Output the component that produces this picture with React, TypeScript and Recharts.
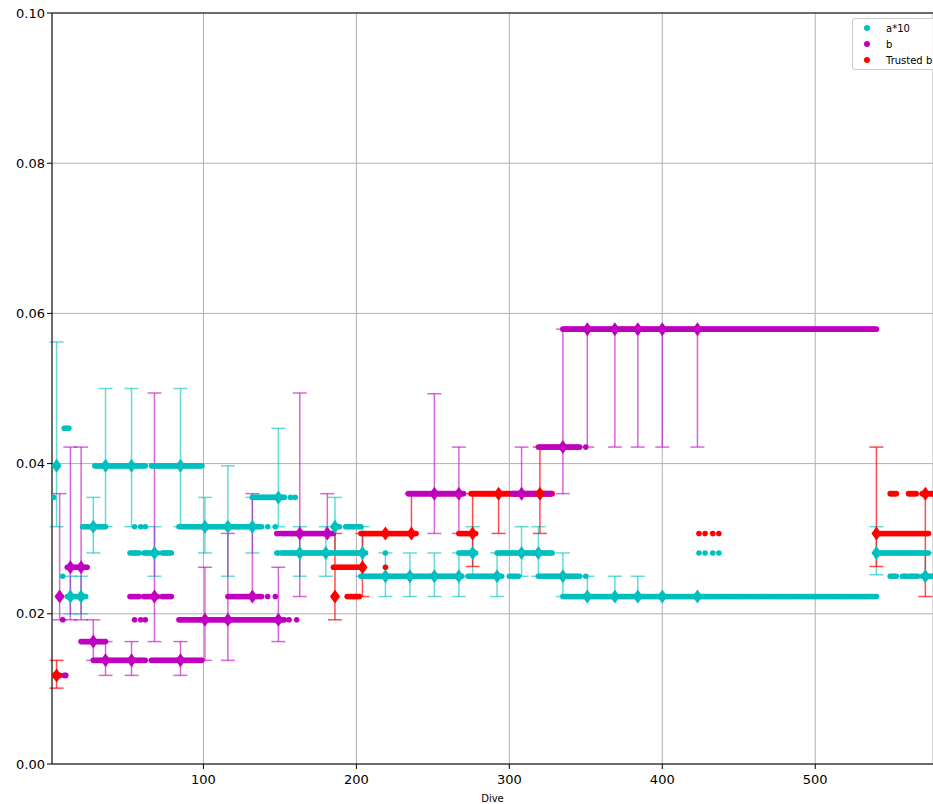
import React from 'react'
import {
  CartesianGrid,
  ErrorBar,
  Legend,
  ReferenceLine,
  Scatter,
  ScatterChart,
  XAxis,
  YAxis,
} from 'recharts'

// [first dive, last dive, value] - one dot per dive
const aRuns: [number, number, number][] = [
  [2, 2, 0.0355], [4, 4, 0.0397], [8, 8, 0.025], [9, 12, 0.0447], [11, 23, 0.0223],
  [21, 36, 0.0316], [29, 62, 0.0397], [55, 55, 0.0316], [59, 59, 0.0316], [62, 62, 0.0316],
  [52, 58, 0.0281], [61, 70, 0.0281], [73, 79, 0.0281], [66, 99, 0.0397],
  [84, 138, 0.0316], [142, 142, 0.0316], [147, 147, 0.0316],
  [132, 153, 0.0355], [157, 157, 0.0355], [160, 160, 0.0355],
  [148, 149, 0.0281], [151, 206, 0.0281], [186, 189, 0.0316], [193, 203, 0.0316],
  [203, 269, 0.025], [219, 219, 0.0281], [267, 278, 0.0281], [273, 295, 0.025],
  [292, 328, 0.0281], [300, 306, 0.025], [319, 346, 0.025], [350, 350, 0.025],
  [335, 540, 0.0223], [424, 424, 0.0281], [428, 428, 0.0281], [433, 433, 0.0281], [437, 437, 0.0281],
  [540, 574, 0.0281], [549, 553, 0.025], [557, 560, 0.025], [562, 567, 0.025], [570, 577, 0.025],
]

const bRuns: [number, number, number][] = [
  [5, 7, 0.0223], [8, 8, 0.0192], [9, 10, 0.0118], [11, 24, 0.0262], [20, 36, 0.0163],
  [28, 62, 0.0138], [52, 58, 0.0223], [61, 70, 0.0223], [73, 79, 0.0223],
  [55, 55, 0.0192], [59, 59, 0.0192], [62, 62, 0.0192], [66, 99, 0.0138],
  [84, 153, 0.0192], [156, 156, 0.0192], [161, 161, 0.0192],
  [116, 138, 0.0223], [142, 142, 0.0223], [147, 147, 0.0223],
  [148, 149, 0.0307], [151, 185, 0.0307], [234, 270, 0.036], [302, 327, 0.036],
  [319, 346, 0.0422], [350, 350, 0.0422], [335, 540, 0.0579],
]

const trustedRuns: [number, number, number][] = [
  [2, 6, 0.0118], [186, 187, 0.0223], [194, 202, 0.0223], [185, 204, 0.0262], [219, 219, 0.0262],
  [203, 239, 0.0307], [267, 278, 0.0307], [275, 328, 0.036],
  [424, 424, 0.0307], [428, 428, 0.0307], [433, 433, 0.0307], [437, 437, 0.0307],
  [540, 574, 0.0307], [549, 553, 0.036], [561, 566, 0.036], [570, 577, 0.036],
]

// [dive, value, low, high] - estimate with its range
const aMarks: [number, number, number, number][] = [
  [4, 0.0397, 0.0316, 0.0562], [13, 0.0223, 0.02, 0.025], [20, 0.0223, 0.02, 0.025],
  [28, 0.0316, 0.0281, 0.0355], [36, 0.0397, 0.0316, 0.05], [53, 0.0397, 0.0316, 0.05],
  [68, 0.0281, 0.025, 0.0316], [85, 0.0397, 0.0316, 0.05], [101, 0.0316, 0.0281, 0.0355],
  [116, 0.0316, 0.025, 0.0397], [132, 0.0316, 0.0281, 0.0355], [149, 0.0355, 0.0316, 0.0447],
  [163, 0.0281, 0.025, 0.0316], [180, 0.0281, 0.025, 0.0316], [186, 0.0316, 0.0281, 0.0355],
  [204, 0.0281, 0.025, 0.0316], [219, 0.025, 0.0223, 0.0281], [235, 0.025, 0.0223, 0.0281],
  [251, 0.025, 0.0223, 0.0281], [267, 0.025, 0.0223, 0.0281], [276, 0.0281, 0.025, 0.0316],
  [292, 0.025, 0.0223, 0.0281], [308, 0.0281, 0.025, 0.0316], [319, 0.0281, 0.025, 0.0316],
  [335, 0.025, 0.0223, 0.0281], [351, 0.0223, 0.0223, 0.025], [369, 0.0223, 0.0223, 0.025],
  [384, 0.0223, 0.0223, 0.025], [400, 0.0223, 0.0223, 0.0223], [423, 0.0223, 0.0223, 0.0223],
  [540, 0.0281, 0.0252, 0.0316], [572, 0.025, 0.025, 0.0281],
]

const bMarks: [number, number, number, number][] = [
  [6, 0.0223, 0.0192, 0.036], [13, 0.0262, 0.0192, 0.0422], [20, 0.0262, 0.0192, 0.0422],
  [28, 0.0163, 0.0138, 0.0192], [36, 0.0138, 0.0118, 0.0163], [53, 0.0138, 0.0118, 0.0163],
  [68, 0.0223, 0.0163, 0.0494], [85, 0.0138, 0.0118, 0.0163], [101, 0.0192, 0.0138, 0.0262],
  [116, 0.0192, 0.0138, 0.0307], [132, 0.0223, 0.0223, 0.036], [149, 0.0192, 0.0163, 0.0262],
  [163, 0.0307, 0.0223, 0.0494], [181, 0.0307, 0.0307, 0.036], [251, 0.036, 0.0307, 0.0493],
  [267, 0.036, 0.0307, 0.0422], [308, 0.036, 0.036, 0.0422], [335, 0.0422, 0.036, 0.0579],
  [351, 0.0579, 0.0422, 0.0579], [369, 0.0579, 0.0422, 0.0579], [384, 0.0579, 0.0422, 0.0579],
  [400, 0.0579, 0.0422, 0.0579], [423, 0.0579, 0.0422, 0.0579],
]

const trustedMarks: [number, number, number, number][] = [
  [4, 0.0118, 0.0101, 0.0138], [186, 0.0223, 0.0192, 0.0307], [204, 0.0262, 0.0223, 0.0307],
  [219, 0.0307, 0.0307, 0.0307], [236, 0.0307, 0.0307, 0.036], [276, 0.0307, 0.0263, 0.036],
  [293, 0.036, 0.0307, 0.036], [320, 0.036, 0.0307, 0.0422], [540, 0.0307, 0.0263, 0.0422],
  [572, 0.036, 0.0223, 0.036],
]

const xTicks = [100, 200, 300, 400, 500]
const yTicks = [0, 0.02, 0.04, 0.06, 0.08, 0.1]

const CYAN = '#00bfbf'
const MAGENTA = '#bf00bf'
const RED = '#ff0000'

const legendItems: [string, string][] = [
  ['a*10', CYAN],
  ['b', MAGENTA],
  ['Trusted b', RED],
]

const expand = (runs: [number, number, number][]) =>
  runs.flatMap(([s, e, v]) => Array.from({ length: e - s + 1 }, (_, i) => ({ x: s + i, y: v })))

const toMarks = (marks: [number, number, number, number][]) =>
  marks.map(([x, y, lo, hi]) => ({ x, y, err: [Math.max(0, y - lo), Math.max(0, hi - y)] }))

const dot = (color: string) => (p: any) => <circle cx={p.cx} cy={p.cy} r={2.8} fill={color} />

const diamond = (color: string) => (p: any) => (
  <polygon
    points={`${p.cx},${p.cy - 7} ${p.cx + 5},${p.cy} ${p.cx},${p.cy + 7} ${p.cx - 5},${p.cy}`}
    fill={color}
  />
)

const nothing = () => <g />

const LegendBox = () => (
  <div
    style={{
      width: 120,
      height: 52,
      boxSizing: 'border-box',
      border: '1px solid #cccccc',
      borderRadius: 3,
      background: 'rgba(255,255,255,0.8)',
      paddingTop: 1,
      fontFamily: 'DejaVu Sans',
      fontSize: 10,
      color: '#000',
    }}
  >
    {legendItems.map(([label, color]) => (
      <div key={label} style={{ height: 16, display: 'flex', alignItems: 'center' }}>
        <span style={{ width: 6, height: 6, borderRadius: 3, background: color, marginLeft: 11, marginRight: 16 }} />
        <span>{label}</span>
      </div>
    ))}
  </div>
)

const tickStyle = { fontFamily: 'DejaVu Sans', fontSize: 13, fill: '#000' }

const App = () => {
  const aDots = expand(aRuns)
  const bDots = expand(bRuns)
  const tDots = expand(trustedRuns)
  const aEst = toMarks(aMarks)
  const bEst = toMarks(bMarks)
  const tEst = toMarks(trustedMarks)

  return (
    <div style={{ position: 'absolute', left: 0, top: 0, width: 933, height: 804, overflow: 'hidden', background: '#fff' }}>
      <ScatterChart width={933} height={804} margin={{ top: 13, right: 0, bottom: 0, left: 0 }}>
        <CartesianGrid stroke="#b0b0b0" />
        <XAxis
          type="number"
          dataKey="x"
          domain={[1, 577]}
          allowDataOverflow
          ticks={xTicks}
          height={40}
          stroke="#000"
          tickSize={5}
          tickMargin={6}
          tick={tickStyle}
          label={{ value: 'Dive', position: 'insideBottom', offset: 2, style: { fontFamily: 'DejaVu Sans', fontSize: 10, fill: '#000' } }}
        />
        <YAxis
          type="number"
          dataKey="y"
          domain={[0, 0.1]}
          allowDataOverflow
          ticks={yTicks}
          width={52}
          stroke="#000"
          tickSize={5}
          tickMargin={2}
          tick={tickStyle}
          tickFormatter={(v: number) => v.toFixed(2)}
        />
        <ReferenceLine y={0.1} stroke="#000" />

        <Scatter data={aEst} shape={nothing} legendType="none" isAnimationActive={false}>
          <ErrorBar dataKey="err" direction="y" width={7} stroke={CYAN} strokeOpacity={0.6} isAnimationActive={false} />
        </Scatter>
        <Scatter data={bEst} shape={nothing} legendType="none" isAnimationActive={false}>
          <ErrorBar dataKey="err" direction="y" width={7} stroke={MAGENTA} strokeOpacity={0.6} isAnimationActive={false} />
        </Scatter>
        <Scatter data={tEst} shape={nothing} legendType="none" isAnimationActive={false}>
          <ErrorBar dataKey="err" direction="y" width={7} stroke={RED} strokeOpacity={0.7} isAnimationActive={false} />
        </Scatter>

        <Scatter name="a*10" data={aDots} shape={dot(CYAN)} isAnimationActive={false} />
        <Scatter name="Trusted b" data={tDots} shape={dot(RED)} isAnimationActive={false} />
        <Scatter name="b" data={bDots} shape={dot(MAGENTA)} isAnimationActive={false} />

        <Scatter data={aEst} shape={diamond(CYAN)} legendType="none" isAnimationActive={false} />
        <Scatter data={bEst} shape={diamond(MAGENTA)} legendType="none" isAnimationActive={false} />
        <Scatter data={tEst} shape={diamond(RED)} legendType="none" isAnimationActive={false} />

        <Legend
          layout="vertical"
          align="center"
          verticalAlign="middle"
          content={() => <LegendBox />}
          wrapperStyle={{ left: 852, top: 18, width: 'auto' }}
        />
      </ScatterChart>
    </div>
  )
}

export default App
